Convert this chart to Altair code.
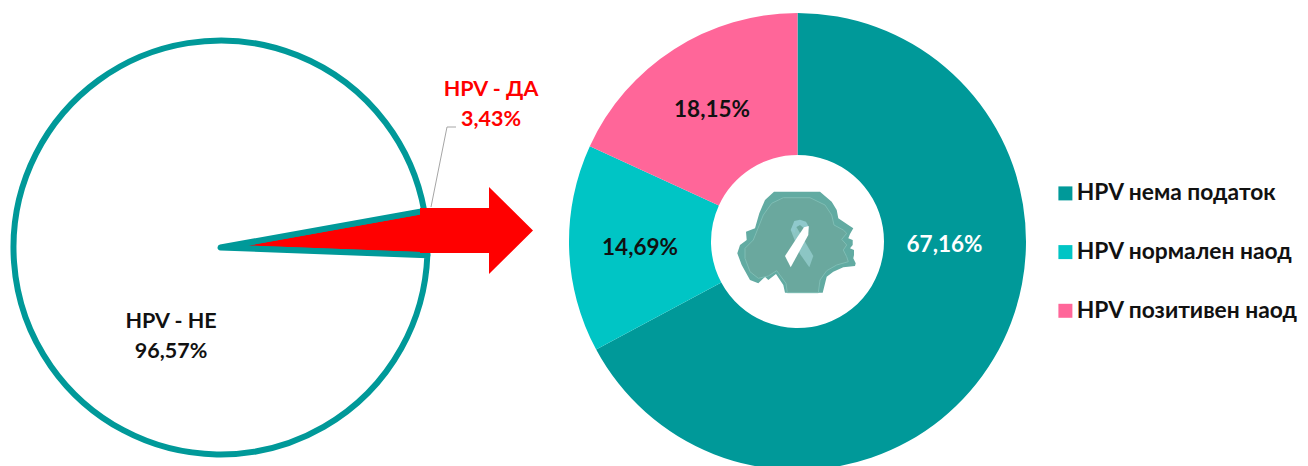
import altair as alt
import pandas as pd

# --- values ---
left_names = ["HPV - ДА", "HPV - НЕ"]
left_values = [3.43, 96.57]
left_order = [0, 1]

right_names = ["HPV нема податок", "HPV нормален наод", "HPV позитивен наод"]
right_values = [67.16, 14.69, 18.15]
right_labels = ["67,16%", "14,69%", "18,15%"]
right_order = [0, 1, 2]

TEAL = "#009999"
CYAN = "#00C5C5"
PINK = "#FF6699"
FONT = "Lato"
OFF = 8


def px(v):
    return alt.value(v - OFF)


def path(points, cx=291, cy=279, k=3.0):
    """Trace given in 3x-zoom coordinates, turned into a pixel path about the badge centre."""
    return "M" + "L".join(f"{(x-cx)/k:.1f},{(y-cy)/k:.1f}" for x, y in points) + "Z"


left = pd.DataFrame({"name": left_names, "value": left_values, "o": left_order})
right = pd.DataFrame({"name": right_names, "value": right_values, "o": right_order, "label": right_labels})

START = 79.8 * 3.14159265 / 180
left_pie = (
    alt.Chart(left)
    .mark_arc(radius=207, stroke=TEAL, strokeWidth=6, strokeJoin="round")
    .encode(
        x=px(220.5),
        y=px(247.5),
        theta=alt.Theta("value:Q", stack=True,
                        scale=alt.Scale(domain=[0, 100], range=[START, START + 2 * 3.14159265])),
        order=alt.Order("o:Q"),
        color=alt.Color("name:N", legend=None,
                        scale=alt.Scale(domain=left_names, range=["#FF0000", "#FFFFFF"])),
    )
)

donut = (
    alt.Chart(right)
    .mark_arc(radius=228.5, innerRadius=86.5)
    .encode(
        x=px(797.5),
        y=px(241.5),
        theta=alt.Theta("value:Q", stack=True,
                        scale=alt.Scale(domain=[0, 100], range=[0, 2 * 3.14159265])),
        order=alt.Order("o:Q"),
        color=alt.Color(
            "name:N",
            scale=alt.Scale(domain=right_names, range=[TEAL, CYAN, PINK]),
            legend=alt.Legend(
                title=None, orient="none", legendX=1054 - OFF, legendY=182 - OFF,
                symbolType="square", symbolSize=196, symbolStrokeWidth=0,
                labelFont=FONT, labelFontSize=22.8, labelFontWeight="bold", labelColor="#111111",
                labelOffset=0, rowPadding=34.7, labelLimit=300,
            ),
        ),
    )
)


def shape(d, color, x=797, y=243, edge=None):
    kw = dict(stroke=edge, strokeWidth=1) if edge else dict(strokeWidth=0)
    return alt.Chart(right.head(1)).mark_point(
        shape=d, size=4, filled=True, fill=color, opacity=1, **kw
    ).encode(x=px(x), y=px(y))


ARROW = "M-69,-22.5L0,-22.5L0,-43.5L44,0L0,43.5L0,22.5L-69,22.5Z"
arrow = shape(ARROW, "#FF0000", 489, 230.5)

leader = (
    alt.Chart(right.head(1)).mark_rule(color="#A6A6A6", strokeWidth=1).encode(
        x=px(431), y=px(207), x2=px(447), y2=px(127))
    + alt.Chart(right.head(1)).mark_rule(color="#A6A6A6", strokeWidth=1).encode(
        x=px(447), y=px(127), x2=px(456), y2=px(127))
)

OUTER = [(255,428),(250,405),(228,372),(205,390),(195,380),(175,400),(150,390),(125,345),(112,310),
         (120,285),(140,270),(138,245),(165,235),(178,190),(195,150),(222,125),(360,125),(395,155),
         (410,180),(415,205),(445,225),(460,235),(450,252),(445,265),(458,270),(458,285),(450,295),
         (462,300),(462,315),(460,325),(467,340),(465,348),(430,352),(400,365),(380,380),(368,428)]
INNER = [(262,428),(258,400),(230,362),(205,378),(175,385),(150,365),(135,325),(135,295),(160,270),
         (172,240),(190,195),(215,160),(250,143),(330,143),(375,165),(395,195),(402,225),(430,240),
         (440,250),(425,268),(440,285),(430,300),(440,320),(445,335),(410,345),(380,362),(360,390),(355,428)]
STRAND = [(272,240),(284,222),(340,318),(328,352),(300,312)]
LOOP = [(272,240),(283,213),(300,209),(318,215),(327,232),(322,250),(312,235),(300,225),(288,232),(284,250)]
WHITE = [(326,228),(325,255),(272,352),(255,318),(292,262),(312,232)]

logo = [
    shape(path(OUTER), "#62ABA2"),
    shape(path(INNER), "#6AA89E", edge="#7FBDB4"),
    shape(path(STRAND), "#8CC6C4"),
    shape(path(LOOP), "#8FC9CC"),
    shape(path(WHITE), "#FFFFFF"),
]


def text(df, x, y, color, size=22.5):
    return alt.Chart(df).mark_text(
        font=FONT, fontWeight="bold", fontSize=size, color=color, align="center", baseline="middle",
        lineBreak="\n", lineHeight=30,
    ).encode(x=px(x), y=px(y), text="t:N")


t_da = text(pd.DataFrame({"t": ["HPV - ДА\n3,43%"]}), 491, 90, "#FF0000", 21.5)
t_ne = text(pd.DataFrame({"t": ["HPV - НЕ\n96,57%"]}), 171, 322, "#111111", 21.5)
t_a = text(pd.DataFrame({"t": [right_labels[0]]}), 944.5, 245, "#FFFFFF")
t_b = text(pd.DataFrame({"t": [right_labels[1]]}), 640, 248, "#111111")
t_c = text(pd.DataFrame({"t": [right_labels[2]]}), 712, 110, "#111111")

chart = (
    alt.layer(left_pie, arrow, leader, donut, *logo, t_da, t_ne, t_a, t_b, t_c)
    .resolve_scale(color="independent", theta="independent")
    .properties(width=1292, height=458, padding=0, autosize=alt.AutoSizeParams(type="none"))
    .configure_view(stroke=None)
)

chart.save("out.html", embed_options={"renderer": "svg", "actions": False})
